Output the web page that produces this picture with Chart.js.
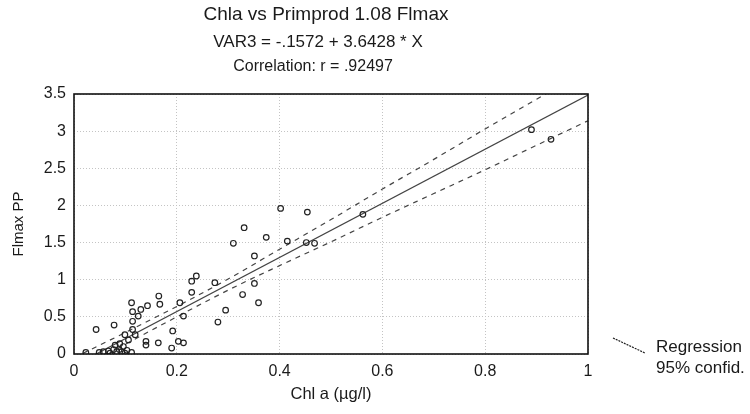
<!DOCTYPE html>
<html>
<head>
<meta charset="utf-8">
<script src="https://cdn.jsdelivr.net/npm/chart.js@4/dist/chart.umd.min.js"></script>
<style>
  html, body { margin: 0; padding: 0; background: #ffffff; }
  #wrap { width: 750px; height: 414px; }
</style>
</head>
<body>
<div id="wrap"><canvas id="c" width="750" height="414"></canvas></div>
<script>
// ---- data ----
const titleLines = ["Chla vs Primprod 1.08 Flmax", "VAR3 = -.1572 + 3.6428 * X", "Correlation: r = .92497"];
const xTitle = "Chl a (\u00b5g/l)";
const yTitle = "Flmax PP";
const legendLabels = ["Regression", "95% confid."];

const xTickValues = [0, 0.2, 0.4, 0.6, 0.8, 1];
const yTickValues = [0, 0.5, 1, 1.5, 2, 2.5, 3, 3.5];

const chlA = [0.928, 0.890, 0.562, 0.454, 0.402, 0.468, 0.452, 0.415, 0.374, 0.331,
              0.310, 0.351, 0.238, 0.229, 0.274, 0.351, 0.229, 0.328, 0.359, 0.206,
              0.295, 0.213, 0.280, 0.192, 0.203, 0.213, 0.190, 0.165, 0.167, 0.143,
              0.130, 0.112, 0.114, 0.125, 0.114, 0.114, 0.119, 0.099, 0.106, 0.078,
              0.043, 0.140, 0.140, 0.164, 0.089, 0.080, 0.096, 0.088, 0.077, 0.067,
              0.057, 0.049, 0.083, 0.093, 0.103, 0.112, 0.023, 0.099, 0.070];
const flmaxPP = [2.89, 3.02, 1.88, 1.91, 1.96, 1.49, 1.50, 1.52, 1.57, 1.70,
                 1.49, 1.32, 1.05, 0.98, 0.96, 0.95, 0.83, 0.80, 0.69, 0.69,
                 0.59, 0.51, 0.43, 0.31, 0.17, 0.15, 0.08, 0.78, 0.67, 0.65,
                 0.60, 0.69, 0.57, 0.51, 0.44, 0.33, 0.26, 0.26, 0.19, 0.39,
                 0.33, 0.17, 0.12, 0.15, 0.14, 0.12, 0.10, 0.06, 0.06, 0.04,
                 0.03, 0.02, 0.03, 0.03, 0.05, 0.02, 0.02, 0.01, 0.01];

const fitX = [0, 1];
const fitY = [-0.1572, 3.4856];

const bandX     = [0,     0.1,  0.2,  0.3,  0.4,  0.5,  0.6,  0.7,  0.8,  0.9,  1.0];
const bandUpper = [-0.05, 0.29, 0.64, 1.01, 1.41, 1.81, 2.22, 2.62, 3.03, 3.43, 3.83];
const bandLower = [-0.27, 0.13, 0.50, 0.86, 1.19, 1.51, 1.84, 2.16, 2.48, 2.81, 3.14];

// ---- build datasets ----
const pts = chlA.map((x, i) => ({ x: x, y: flmaxPP[i] }));
const fitPts = fitX.map((x, i) => ({ x: x, y: fitY[i] }));
const upPts = bandX.map((x, i) => ({ x: x, y: bandUpper[i] }));
const loPts = bandX.map((x, i) => ({ x: x, y: bandLower[i] }));

const FONT = "'Liberation Sans', Arial, sans-serif";
const INK = '#1a1a1a';

const decor = {
  id: 'decor',
  afterDraw(chart) {
    const ctx = chart.ctx;
    const a = chart.chartArea;
    ctx.save();
    // frame
    ctx.strokeStyle = '#111';
    ctx.lineWidth = 1.6;
    ctx.strokeRect(a.left, a.top, a.right - a.left, a.bottom - a.top);
    // titles
    ctx.fillStyle = INK;
    ctx.textAlign = 'center';
    ctx.textBaseline = 'alphabetic';
    ctx.font = '19px ' + FONT;
    ctx.fillText(titleLines[0], 326, 20);
    ctx.font = '17px ' + FONT;
    ctx.fillText(titleLines[1], 318, 47);
    ctx.font = '16px ' + FONT;
    ctx.fillText(titleLines[2], 313, 71);
    // legend
    ctx.strokeStyle = '#222';
    ctx.lineWidth = 1.2;
    ctx.setLineDash([2, 1]);
    ctx.beginPath();
    ctx.moveTo(613, 338);
    ctx.lineTo(645, 353);
    ctx.stroke();
    ctx.setLineDash([]);
    ctx.textAlign = 'left';
    ctx.font = '17px ' + FONT;
    ctx.fillText(legendLabels[0], 656, 352);
    ctx.fillText(legendLabels[1], 656, 373);
    ctx.restore();
  }
};

new Chart(document.getElementById('c'), {
  type: 'scatter',
  data: {
    datasets: [
      {
        label: 'Data',
        data: pts,
        pointStyle: 'circle',
        pointRadius: 2.8,
        pointBorderWidth: 1.2,
        pointBorderColor: '#222',
        pointBackgroundColor: 'rgba(255,255,255,0)',
        showLine: false
      },
      {
        label: legendLabels[0],
        data: fitPts,
        showLine: true,
        borderColor: '#444',
        borderWidth: 1.2,
        pointRadius: 0
      },
      {
        label: legendLabels[1] + ' upper',
        data: upPts,
        showLine: true,
        borderColor: '#444',
        borderWidth: 1.2,
        borderDash: [5, 5],
        cubicInterpolationMode: 'monotone',
        pointRadius: 0
      },
      {
        label: legendLabels[1] + ' lower',
        data: loPts,
        showLine: true,
        borderColor: '#444',
        borderWidth: 1.2,
        borderDash: [5, 5],
        cubicInterpolationMode: 'monotone',
        pointRadius: 0
      }
    ]
  },
  options: {
    responsive: false,
    animation: false,
    devicePixelRatio: 1,
    layout: { padding: { left: 0, right: 162, top: 94, bottom: 0 } },
    plugins: {
      legend: { display: false },
      title: { display: false },
      tooltip: { enabled: false }
    },
    scales: {
      x: {
        type: 'linear',
        min: 0, max: 1,
        afterBuildTicks(s) { s.ticks = xTickValues.map(v => ({ value: v })); },
        afterFit(s) { s.height = 60; },
        ticks: {
          color: INK,
          font: { family: FONT, size: 16 },
          padding: 8,
          maxRotation: 0,
          callback: v => String(v)
        },
        grid: { color: '#c4c4c4', lineWidth: 1, drawTicks: false },
        border: { display: false, dash: [1, 2] },
        title: {
          display: true, text: xTitle, color: INK,
          font: { family: FONT, size: 16.5 },
          padding: { top: 0, bottom: 10 }
        }
      },
      y: {
        type: 'linear',
        min: 0, max: 3.5,
        afterBuildTicks(s) { s.ticks = yTickValues.map(v => ({ value: v })); },
        afterFit(s) { s.width = 74; },
        ticks: {
          color: INK,
          font: { family: FONT, size: 16 },
          padding: 8,
          callback: v => String(v)
        },
        grid: { color: '#c4c4c4', lineWidth: 1, drawTicks: false },
        border: { display: false, dash: [1, 2] },
        title: {
          display: true, text: yTitle, color: INK,
          font: { family: FONT, size: 15 },
          padding: { top: 10, bottom: 0 }
        }
      }
    }
  },
  plugins: [decor]
});
</script>
</body>
</html>
